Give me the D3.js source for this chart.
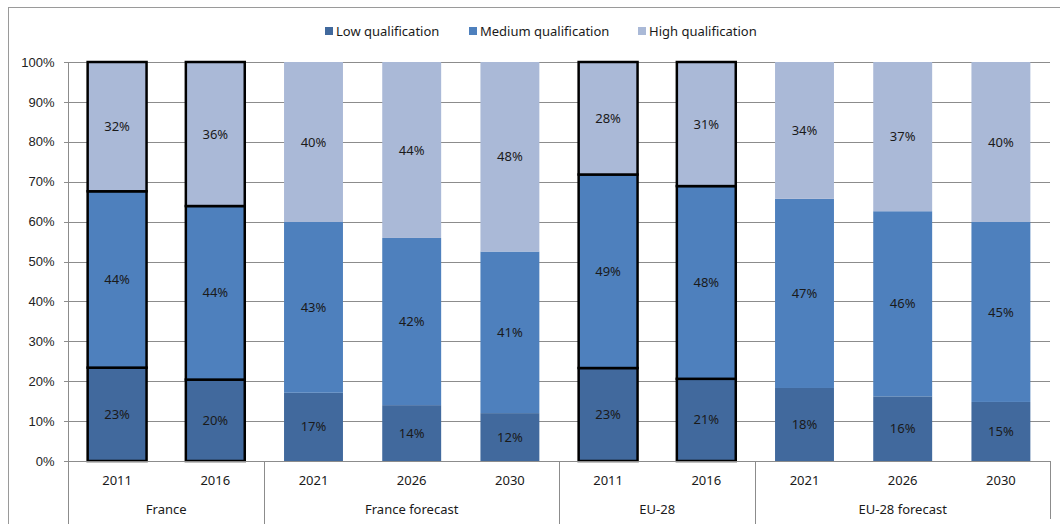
<!DOCTYPE html>
<html lang="en">
<head>
    <meta charset="UTF-8">
    <title>Qualification structure</title>
    <script src="https://d3js.org/d3.v7.min.js"></script>
    <style>
        body { margin: 0; background: #fff; }
        svg { display: block; font-family: "Noto Sans", Arial, sans-serif; }
        .grid line { stroke: #8c8c8c; stroke-width: 1; shape-rendering: crispEdges; }
        .axis path, .axis line { stroke: #8c8c8c; shape-rendering: crispEdges; }
        .axis text { fill: #222; font-size: 13px; }
        .lbl { fill: #1a1a1a; font-size: 13px; }
    </style>
</head>
<body>
<div id="chart"></div>
<script>
// Data (shares in %)
const years = ['2011', '2016', '2021', '2026', '2030', '2011', '2016', '2021', '2026', '2030'];
const groups = ['France', 'France forecast', 'EU-28', 'EU-28 forecast'];
const groupSizes = [2, 3, 2, 3];
const outlined = [true, true, false, false, false, true, true, false, false, false];
const low = [23.4, 20.4, 17.1, 14.0, 12.0, 23.3, 20.6, 18.3, 16.2, 14.8];
const medium = [44.2, 43.5, 42.8, 41.9, 40.5, 48.5, 48.3, 47.4, 46.4, 45.1];
const high = [32.4, 36.1, 40.1, 44.1, 47.5, 28.2, 31.1, 34.3, 37.4, 40.1];
const seriesNames = ['Low qualification', 'Medium qualification', 'High qualification'];
const colors = ['#41699d', '#4e80bd', '#aab9d7'];
const yTicks = [0, 10, 20, 30, 40, 50, 60, 70, 80, 90, 100];

const W = 1060, H = 524;
const plot = { left: 68, right: 1050, top: 62, bottom: 461 };

const svg = d3.select('#chart').append('svg')
    .attr('width', W)
    .attr('height', H);

// outer chart border
svg.append('rect')
    .attr('x', 8.5).attr('y', 7.5)
    .attr('width', 1060).attr('height', 540)
    .attr('fill', 'none')
    .attr('stroke', '#9a9a9a');

const idx = d3.range(years.length);
const x = d3.scaleBand().domain(idx).range([plot.left, plot.right]).paddingInner(0.4).paddingOuter(0.2);
const y = d3.scaleLinear().domain([0, 100]).range([plot.bottom, plot.top]);

// horizontal gridlines
svg.append('g').attr('class', 'grid')
    .selectAll('line')
    .data(yTicks)
    .enter().append('line')
    .attr('x1', plot.left).attr('x2', plot.right)
    .attr('y1', d => Math.round(y(d)) + 0.5)
    .attr('y2', d => Math.round(y(d)) + 0.5);

// y axis
svg.append('g')
    .attr('class', 'axis')
    .attr('transform', `translate(${plot.left + 0.5},0)`)
    .call(d3.axisLeft(y).tickValues(yTicks).tickFormat(d => d + '%').tickSize(5).tickSizeOuter(0).tickPadding(9))
    .call(g => g.select('.domain').remove())
    .call(g => g.selectAll('text').style('font-size', '13px'));
svg.append('line')
    .attr('x1', plot.left + 0.5).attr('x2', plot.left + 0.5)
    .attr('y1', plot.top).attr('y2', H)
    .attr('stroke', '#8c8c8c');

// stacked bars
const table = idx.map(i => ({ i: i, low: low[i], medium: medium[i], high: high[i] }));
const stack = d3.stack().keys(['low', 'medium', 'high'])(table);

const layers = svg.append('g').selectAll('g')
    .data(stack)
    .enter().append('g')
    .attr('fill', (d, k) => colors[k]);

layers.selectAll('rect')
    .data(d => d)
    .enter().append('rect')
    .attr('x', d => x(d.data.i))
    .attr('y', d => y(d[1]))
    .attr('width', x.bandwidth())
    .attr('height', d => y(d[0]) - y(d[1]))
    .attr('stroke', d => outlined[d.data.i] ? '#000' : 'none')
    .attr('stroke-width', 2.5);

layers.selectAll('text')
    .data(d => d)
    .enter().append('text')
    .attr('class', 'lbl')
    .attr('x', d => x(d.data.i) + x.bandwidth() / 2)
    .attr('y', d => (y(d[0]) + y(d[1])) / 2)
    .attr('dy', '0.35em')
    .attr('text-anchor', 'middle')
    .text(d => Math.round(d[1] - d[0]) + '%');

// x axis line
svg.append('line')
    .attr('x1', plot.left).attr('x2', plot.right)
    .attr('y1', plot.bottom + 0.5).attr('y2', plot.bottom + 0.5)
    .attr('stroke', '#8c8c8c');

// year labels
svg.append('g').selectAll('text')
    .data(idx)
    .enter().append('text')
    .attr('class', 'lbl')
    .attr('x', i => x(i) + x.bandwidth() / 2)
    .attr('y', 485)
    .attr('text-anchor', 'middle')
    .text(i => years[i]);

// group separators and group labels
const step = x.step();
let start = 0;
const bounds = [0];
groupSizes.forEach(n => { start += n; bounds.push(start); });

svg.append('g').selectAll('line')
    .data(bounds)
    .enter().append('line')
    .attr('x1', b => Math.round(plot.left + b * step) + 0.5)
    .attr('x2', b => Math.round(plot.left + b * step) + 0.5)
    .attr('y1', plot.bottom)
    .attr('y2', b => b === bounds[bounds.length - 1] ? 519 : H)
    .attr('stroke', '#8c8c8c');

svg.append('g').selectAll('text')
    .data(groups)
    .enter().append('text')
    .attr('class', 'lbl')
    .attr('x', (g, k) => plot.left + (bounds[k] + bounds[k + 1]) / 2 * step)
    .attr('y', 514)
    .attr('text-anchor', 'middle')
    .text(g => g);

// legend
const legendX = [325, 469, 638];
const legend = svg.append('g').selectAll('g')
    .data(seriesNames)
    .enter().append('g')
    .attr('transform', (d, k) => `translate(${legendX[k]},0)`);
legend.append('rect')
    .attr('x', 0).attr('y', 27)
    .attr('width', 8).attr('height', 8)
    .attr('fill', (d, k) => colors[k]);
legend.append('text')
    .attr('class', 'lbl')
    .attr('x', 11).attr('y', 31)
    .attr('dy', '0.35em')
    .text(d => d);
</script>
</body>
</html>
